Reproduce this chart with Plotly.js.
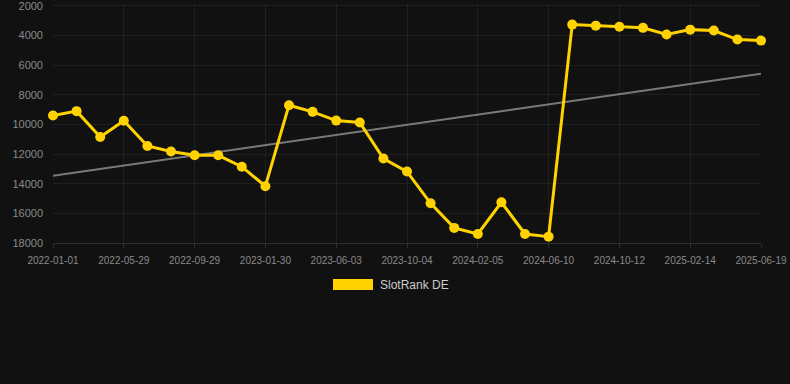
<!DOCTYPE html>
<html>
<head>
<meta charset="utf-8">
<script src="https://cdn.plot.ly/plotly-3.0.1.min.js"></script>
<style>html,body{margin:0;padding:0;background:#111111;}#chart{width:790px;height:384px;}</style>
</head>
<body>
<div id="chart"></div>
<script>
// category labels (every third one is shown on the axis)
const dates = [
  "2022-01-01","2022-02-19","2022-04-09","2022-05-29","2022-07-09","2022-08-19",
  "2022-09-29","2022-11-09","2022-12-20","2023-01-30","2023-03-12","2023-04-23",
  "2023-06-03","2023-07-14","2023-08-24","2023-10-04","2023-11-14","2023-12-26",
  "2024-02-05","2024-03-18","2024-04-29","2024-06-10","2024-07-21","2024-09-01",
  "2024-10-12","2024-11-22","2025-01-03","2025-02-14","2025-03-27","2025-05-08",
  "2025-06-19"
];
const rankDE = [
  9400, 9100, 10850, 9750, 11450, 11830,
  12080, 12080, 12850, 14170, 8700, 9150,
  9740, 9870, 12300, 13180, 15320, 16980,
  17390, 15250, 17390, 17570, 3260, 3330,
  3400, 3480, 3930, 3600, 3660, 4270,
  4340
];
const trendX = ["2022-01-01", "2025-06-19"];
const trendY = [13470, 6570];
const tickDates = dates.filter((d, i) => i % 3 === 0);
const yTicks = [2000, 4000, 6000, 8000, 10000, 12000, 14000, 16000, 18000];
const seriesName = "SlotRank DE";

const traces = [
  {
    x: trendX, y: trendY, type: "scatter", mode: "lines",
    line: {color: "rgba(140,140,140,0.85)", width: 2},
    hoverinfo: "skip", showlegend: false
  },
  {
    x: dates, y: rankDE, type: "scatter", mode: "lines+markers",
    name: seriesName,
    line: {color: "#FFD200", width: 3},
    marker: {color: "#FFD200", size: 10},
    cliponaxis: false, showlegend: false
  }
];

const layout = {
  width: 790, height: 384,
  paper_bgcolor: "#111111", plot_bgcolor: "#111111",
  margin: {l: 53, r: 29, t: 4, b: 141},
  font: {family: "Arial, 'Liberation Sans', sans-serif", color: "#888888", size: 10},
  xaxis: {
    type: "category", categoryorder: "array", categoryarray: dates,
    range: [0, dates.length - 1],
    tickmode: "array", tickvals: tickDates, ticktext: tickDates,
    showgrid: true, gridcolor: "rgba(255,255,255,0.06)",
    showline: true, linecolor: "rgba(255,255,255,0.12)", linewidth: 1,
    ticks: "outside", ticklen: 4, tickcolor: "rgba(255,255,255,0.12)",
    ticklabelstandoff: 4,
    tickfont: {size: 10, color: "#8a8a8a"},
    zeroline: false, fixedrange: true
  },
  yaxis: {
    range: [18000, 1870],
    tickmode: "array", tickvals: yTicks, ticktext: yTicks.map(String),
    ticklabeloverflow: "allow",
    showgrid: true, gridcolor: "rgba(255,255,255,0.06)",
    ticks: "", ticklabelstandoff: 9,
    tickfont: {size: 11, color: "#8a8a8a"},
    zeroline: false, fixedrange: true
  },
  shapes: [
    {type: "rect", xref: "paper", yref: "paper",
     x0: (333 - 53) / 708, x1: (373 - 53) / 708,
     y0: (243 - 290) / 239, y1: (243 - 279) / 239,
     fillcolor: "#FFD200", line: {width: 0}}
  ],
  annotations: [
    {xref: "paper", yref: "paper", x: (378 - 53) / 708, y: (243 - 285) / 239,
     xanchor: "left", yanchor: "middle", showarrow: false,
     text: seriesName, font: {size: 12, color: "#cccccc"}}
  ],
  showlegend: false
};

Plotly.newPlot("chart", traces, layout, {displayModeBar: false, staticPlot: true});
</script>
</body>
</html>
